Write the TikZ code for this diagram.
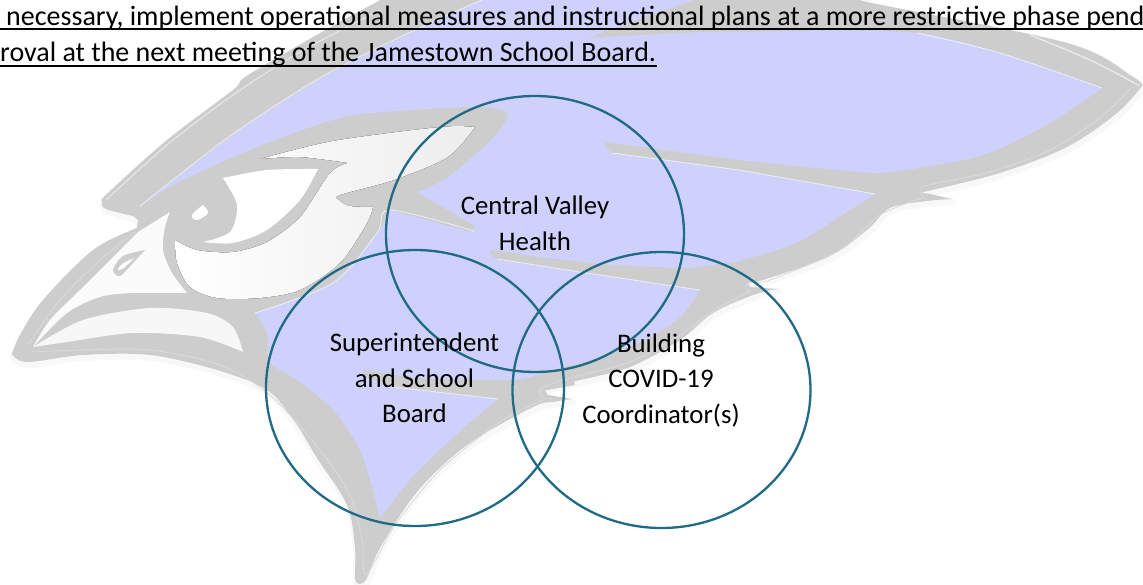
\documentclass[tikz,border=0pt]{standalone}
\usepackage{fontspec}
\setmainfont{Carlito}
\usetikzlibrary{shapes.geometric}
\definecolor{birdgray}{HTML}{CDCDCD}
\definecolor{birdblue}{HTML}{CDD1FC}
\definecolor{birdshadow}{HTML}{F8F8F8}
\definecolor{birdline}{HTML}{DADADA}
\definecolor{ringteal}{HTML}{206A85}
\tikzset{
  ring/.style={draw=ringteal,line width=2.3bp,ellipse,minimum width=298bp,minimum height=276bp,inner sep=0pt,outer sep=0pt},
  ringlabel/.style={align=center,font=\fontsize{26.9}{35.8}\selectfont,inner sep=0pt,text=black},
  headline/.style={anchor=base west,font=\fontsize{28.1}{30}\selectfont,inner sep=0pt,text=black},
  rule/.style={draw=black,line width=2.2bp},
  shine/.style={draw=white,line width=.9bp,opacity=.6},
  seam/.style={draw=birdline,line width=.8bp}
}
\begin{document}
\begin{tikzpicture}[x=1bp,y=-1bp]
\useasboundingbox (0,0) rectangle (1143,585);
\clip (0,0) rectangle (1143,585);
\fill[white] (0,0) rectangle (1143,585);
% silhouette
\def\outline{plot[smooth,tension=.55] coordinates{(12,354)(20,335)(43,300)(93,250)(137,228)} -- (138,220) -- (133,216)
  -- plot[smooth,tension=.55] coordinates{(133,216)(106,209)(102,202)(108,193)(167,140)(233,90)(253,72)(375,3)(420,-12)(840,-6)(867,2)(1067,43)(1133,77)(1142,86)}
  -- plot[smooth,tension=.55] coordinates{(1142,86)(1117,113)(1067,147)(1000,173)(928,191)(922,193)}
  -- (930,194) -- (952,199)
  -- plot[smooth,tension=.55] coordinates{(952,199)(927,201)(890,208)(867,230)(828,257)(763,280)(748,283)}
  -- (750,287) -- (778,289)
  -- plot[smooth,tension=.55] coordinates{(778,289)(753,295)(713,313)(680,340)(630,367)(580,380)(543,388)}
  -- (548,395) -- (572,399)
  -- plot[smooth,tension=.55] coordinates{(572,399)(553,402)(533,407)(467,445)(417,492)(380,548)(367,578)(360,584)(355,578)(355,548)(347,505)(317,458)(295,422)(267,390)(217,370)(150,355)(83,355)(27,362)(12,354)} -- cycle}
\draw[birdshadow,line width=6bp,line join=round,shift={(1,3)}] \outline;
\fill[birdgray] \outline;
% blue wing
\fill[birdblue] plot[smooth,tension=.5] coordinates{(140,207)(230,137)(318,80)(400,38)(486,-2)}
  -- (690,-2) -- (760,28)
  -- plot[smooth,tension=.5] coordinates{(760,28)(800,30)(917,33)(1000,53)(1102,88)}
  -- plot[smooth,tension=.5] coordinates{(1102,88)(1050,123)(983,155)(900,171)(871,173)}
  -- plot[smooth,tension=.5] coordinates{(875,194)(845,213)(796,243)(731,263)(695,268)}
  -- plot[smooth,tension=.5] coordinates{(700,290)(677,320)(630,347)(580,363)(563,367)}
  -- plot[smooth,tension=.5] coordinates{(498,399)(467,425)(417,472)(380,518)}
  -- plot[smooth,tension=.5] coordinates{(380,518)(362,455)(335,412)(300,382)(270,362)(267,333)(255,313)}
  -- plot[smooth,tension=.5] coordinates{(255,313)(333,283)(377,233)(390,210)}
  -- (471,232) -- (475,226) -- (417,192)
  -- plot[smooth,tension=.5] coordinates{(417,192)(448,177)(494,137)(507,113)(478,107)(383,112)(333,120)(257,147)(177,183)(140,207)} -- cycle;
% feather streaks
\fill[birdgray] (588,38) -- (640,19) -- (700,-2) -- (790,-2) -- (810,31) -- (700,32) -- (640,35) -- cycle;
\fill[birdgray] plot[smooth,tension=.3] coordinates{(612,153)(607,148)(610,143)(739,160)(815,168)(880,174)} -- (880,195) -- (739,170) -- cycle;
\fill[birdgray] plot[smooth,tension=.3] coordinates{(497,259)(491,254)(493,250)(547,258)(613,265)(687,268)(735,262)} -- (735,272) -- (700,290) -- (580,272) -- cycle;
\fill[birdgray] plot[smooth,tension=.3] coordinates{(393,387)(367,377)(366,370)(417,378)(517,380)(570,365)} -- (575,385) -- (498,399) -- cycle;
% shine on the blue edges
\draw[shine] plot[smooth,tension=.5] coordinates{(140,206)(230,136)(318,79)(400,37)(486,-2)};
\draw[shine] (612,153) -- (739,170) -- (875,194);
\draw[shine] (497,259) -- (580,272) -- (700,290);
\draw[shine] (393,387) -- (498,399);
\draw[shine] plot[smooth,tension=.5] coordinates{(917,33)(1000,53)(1102,88)};
\draw[shine] plot[smooth,tension=.5] coordinates{(255,313)(333,283)(377,233)(390,210)(474,231)};
\draw[shine] plot[smooth,tension=.5] coordinates{(106,200)(167,145)(233,95)(300,52)(380,10)};
\draw[shine,line width=1.3bp] plot[smooth,tension=.5] coordinates{(1030,35)(1090,60)(1140,86)};
% seams in the grey rim
\draw[seam] plot[smooth,tension=.5] coordinates{(1133,86)(1100,118)(1050,150)(990,172)(925,186)(922,196)(927,200)};
\draw[seam] plot[smooth,tension=.5] coordinates{(922,198)(880,215)(840,250)(770,280)(748,283)(748,290)(752,291)};
\draw[seam] plot[smooth,tension=.5] coordinates{(750,291)(715,310)(680,335)(630,362)(570,378)(542,388)(542,397)(552,399)};
\draw[seam] plot[smooth,tension=.5] coordinates{(543,400)(500,422)(440,470)(395,525)(366,575)(362,540)(350,495)(320,450)(270,395)(220,365)(150,350)(85,350)(30,352)};
\draw[seam] plot[smooth,tension=.5] coordinates{(28,345)(60,300)(100,260)(135,232)};
% face front
\fill[white!97!gray] plot[smooth,tension=.5] coordinates{(138,232)(80,290)(50,320)(33,347)} -- plot[smooth,tension=.5] coordinates{(33,347)(67,313)(100,297)(133,293)(187,293)} -- plot[smooth,tension=.5] coordinates{(187,293)(172,273)(163,250)(165,227)(170,212)} -- cycle;
% lower beak highlight
\fill[white!94!gray] plot[smooth,tension=.5] coordinates{(33,347)(83,320)(150,308)(207,313)(233,327)(243,352)} -- plot[smooth,tension=.5] coordinates{(243,352)(200,337)(133,333)(67,342)(33,347)} -- cycle;
% nostril
\fill[birdgray] plot[smooth,tension=.5] coordinates{(145,250)(123,256)(113,270)(120,276)(133,263)(145,250)} -- cycle;
\fill[white] plot[smooth,tension=.5] coordinates{(134,258)(122,264)(118,270)(124,268)(134,258)} -- cycle;
% face
\fill[left color=white,right color=white!86!gray,shading angle=90]
  plot[smooth,tension=.5] coordinates{(475,127)(440,127)(333,141)(260,159)}
  -- plot[smooth,tension=.5] coordinates{(260,159)(300,157)(348,163)}
  -- plot[smooth,tension=.5] coordinates{(348,163)(330,173)(300,217)(267,242)(233,252)(197,250)(175,240)}
  -- plot[smooth,tension=.5] coordinates{(175,240)(177,263)(190,287)(217,298)(260,298)(300,290)(340,263)(367,223)(373,207)}
  -- plot[smooth,tension=.5] coordinates{(373,207)(350,206)(339,200)(340,195)(394,180)(448,157)(475,127)} -- cycle;
% eye
\fill[white] plot[smooth,tension=.5] coordinates{(223,178)(267,170)(318,169)} -- plot[smooth,tension=.5] coordinates{(318,169)(300,200)(267,230)(233,243)(203,242)} -- plot[smooth,tension=.5] coordinates{(203,242)(230,232)(237,205)(223,178)} -- cycle;
\fill[white] plot[smooth,tension=.6] coordinates{(203,205)(208,213)(197,220)(192,215)(203,205)} -- cycle;
% rings
\node[ring] (central) at (535,234) {};
\node[ring] (board) at (415,388) {};
\node[ring] (coord) at (661.5,390) {};
% labels
\node[ringlabel] (centraltext) at (535,223) {Central Valley\\Health};
\node[ringlabel] (boardtext) at (414.5,378) {Superintendent\\and School\\Board};
\node[ringlabel] (coordtext) at (661,380.5) {Building\\COVID-19\\Coordinator(s)};
% heading text
\node[headline] (lineone) at (6,25.5) {necessary, implement operational measures and instructional plans at a more restrictive phase pend};
\node[headline] (linetwo) at (0,62) {roval at the next meeting of the Jamestown School Board.};
\draw[rule] (0,29.3) -- (1143,29.3);
\draw[rule] (0,66) -- (657,66);
\end{tikzpicture}
\end{document}
